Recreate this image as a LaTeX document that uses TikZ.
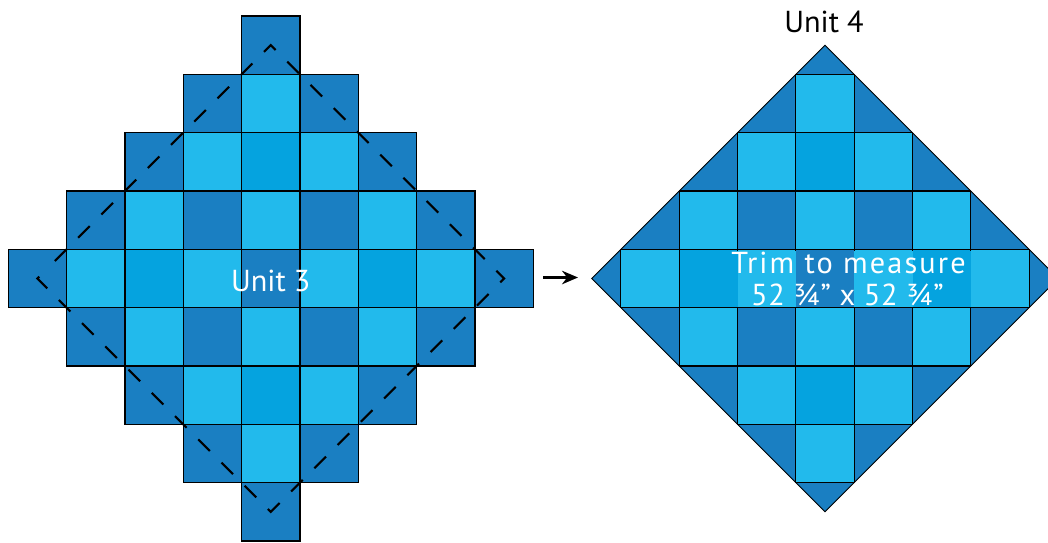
\documentclass[tikz,border=0pt]{standalone}
\usepackage{fontspec}
\setmainfont{PT Sans}
\usetikzlibrary{calc, arrows.meta, positioning}

\definecolor{quiltdark}{RGB}{26,127,194}
\definecolor{quiltlight}{RGB}{34,186,236}
\definecolor{quiltmid}{RGB}{5,163,223}

\tikzset{
  patch/.style={draw=black, line width=0.7pt},
  unit label/.style={font=\fontsize{17.25}{20}\selectfont, inner sep=0pt, anchor=base},
}

% the coloured patches of one block, centred on the origin
\newcommand{\quiltfills}{%
  \foreach \i in {-4,...,4}{
    \foreach \j in {-4,...,4}{
      \pgfmathtruncatemacro{\pdist}{abs(\i)+abs(\j)}
      \ifnum\pdist<4 \fill[quiltlight] (\i*\cs-0.5*\cs,\j*\cs-0.5*\cs) rectangle ++(\cs,\cs);\fi
      \ifnum\pdist=4 \fill[quiltdark] (\i*\cs-0.5*\cs,\j*\cs-0.5*\cs) rectangle ++(\cs,\cs);\fi
    }
  }
  \foreach \i/\j in {0/0, 1/1, 1/-1, -1/1, -1/-1}
    \fill[quiltdark] (\i*\cs-0.5*\cs,\j*\cs-0.5*\cs) rectangle ++(\cs,\cs);
  \foreach \i/\j in {0/2, 0/-2, 2/0, -2/0}
    \fill[quiltmid] (\i*\cs-0.5*\cs,\j*\cs-0.5*\cs) rectangle ++(\cs,\cs);
}
% the seams between them
\newcommand{\quiltseams}{%
  \foreach \i in {-4,...,4}{
    \foreach \j in {-4,...,4}{
      \pgfmathtruncatemacro{\pdist}{abs(\i)+abs(\j)}
      \ifnum\pdist<5 \draw[patch] (\i*\cs-0.5*\cs,\j*\cs-0.5*\cs) rectangle ++(\cs,\cs);\fi
    }
  }
}

\begin{document}
\begin{tikzpicture}[x=0.02cm, y=-0.02cm]
    \useasboundingbox (0,0) rectangle (1048,542);
    \def\cs{58.33}

    % Unit 3
    \begin{scope}[shift={(270.8,278.5)}]
        \quiltfills
        \quiltseams
        \coordinate (L3) at (-4*\cs,0);
        \coordinate (T3) at (0,-4*\cs);
        \coordinate (R3) at (4*\cs,0);
        \coordinate (B3) at (0,4*\cs);
        \coordinate (G3) at ($(L3)!0.05!(T3)$);
        \draw[line width=1.2pt, dash pattern=on 9.35pt off 9.35pt, dash phase=14.03pt]
            (G3) -- (T3) -- (R3) -- (B3) -- (L3) -- cycle;
    \end{scope}
    \node[unit label, text=white] (unit3) at (270.8,291.7) {Unit 3};

    % Unit 4
    \begin{scope}[shift={(825,278.5)}]
        \coordinate (L4) at (-4*\cs,0);
        \coordinate (T4) at (0,-4*\cs);
        \coordinate (R4) at (4*\cs,0);
        \coordinate (B4) at (0,4*\cs);
        \begin{scope}
            \clip (L4) -- (T4) -- (R4) -- (B4) -- cycle;
            \quiltfills
            \quiltseams
        \end{scope}
        % no seams behind the text
        \begin{scope}
            \clip (-98,-27.5) rectangle (150,27.5);
            \quiltfills
        \end{scope}
        \draw[line width=0.5pt] (L4) -- (T4) -- (R4) -- (B4) -- cycle;
    \end{scope}
    \node[unit label] (unit4) at (824,32) {Unit 4};
    \node[unit label, text=white, font=\fontsize{17.25}{20}\selectfont\addfontfeatures{LetterSpace=7}] (trim) at (848.5,273.3) {Trim to measure};
    \node[unit label, text=white, font=\fontsize{17.25}{20}\selectfont\addfontfeatures{LetterSpace=2}] (size) at (847.5,305) {52 ¾” x 52 ¾”};

    % arrow
    \coordinate (arrS) at (543,277.5);
    \coordinate (arrE) at (578,277.5);
    \draw[-{Stealth[length=0.32cm, width=0.27cm]}, line width=1.4pt] (arrS) -- (arrE);
\end{tikzpicture}
\end{document}
